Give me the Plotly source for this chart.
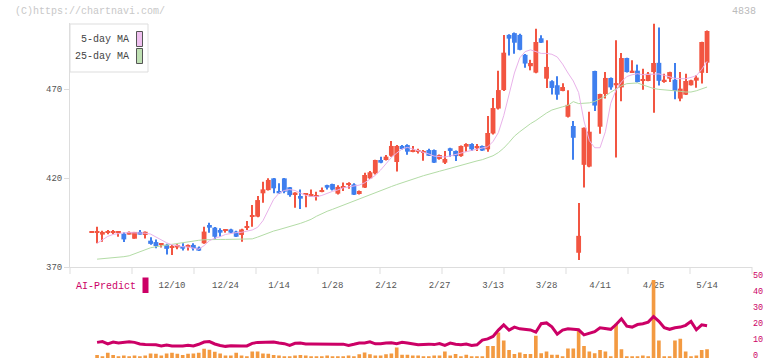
import plotly.graph_objects as go

# ---------------- data ----------------
tick_labels = ['12/10', '12/24', '1/14', '1/28', '2/12', '2/27', '3/13', '3/28', '4/11', '4/25', '5/14']
tick_index = [15, 25, 35, 45, 55, 65, 75, 85, 95, 105, 115]

opens = [389.5, 389.4, 388.2, 389.3, 389.4, 389.2, 388.7, 388.2, 385.9, 389.7,
         388.0, 384.8, 384.0, 382.5, 382.5, 380.8, 381.0, 381.8, 381.4, 382.4,
         380.9, 383.3, 393.6, 392.1, 390.8, 390.7, 391.1, 389.9, 388.0, 392.1,
         398.3, 398.3, 411.4, 413.2, 419.8, 412.7, 419.8, 414.8, 410.8, 409.9,
         410.5, 409.5, 409.8, 412.2, 416.0, 416.6, 411.2, 414.6, 416.5, 416.4,
         411.0, 414.6, 419.8, 422.6, 430.1, 430.1, 432.5, 429.0, 438.0, 438.5,
         434.8, 435.0, 434.6, 435.7, 435.7, 430.7, 428.6, 436.7, 435.2, 432.3,
         437.6, 439.1, 436.7, 438.0, 436.1, 445.0, 459.0, 469.4, 500.4, 501.4,
         500.4, 489.2, 482.8, 479.2, 498.5, 475.8, 474.4, 472.1, 468.9, 454.4,
         449.2, 378.0, 427.4, 426.4, 480.1, 448.8, 467.2, 476.2, 472.1, 470.9,
         487.4, 479.5, 480.3, 474.6, 474.5, 479.5, 484.7, 474.1, 475.8, 475.2,
         464.6, 466.8, 472.1, 474.7, 479.1, 484.8]
highs = [389.5, 392.6, 390.4, 390.8, 390.8, 389.8, 389.5, 389.9, 389.7, 390.8,
         389.9, 386.7, 385.5, 383.3, 383.0, 382.4, 382.8, 383.3, 382.6, 383.3,
         381.5, 392.6, 394.9, 392.5, 391.7, 391.2, 391.5, 390.3, 391.5, 395.8,
         404.8, 409.9, 417.9, 419.8, 420.0, 417.0, 420.0, 415.0, 412.0, 413.6,
         411.5, 413.6, 412.3, 414.7, 416.2, 416.8, 415.9, 417.5, 417.6, 417.0,
         413.0, 423.0, 424.0, 430.3, 432.0, 432.9, 440.8, 438.5, 438.5, 439.0,
         438.0, 436.5, 435.7, 436.5, 436.0, 433.2, 435.2, 437.0, 435.5, 438.3,
         439.5, 439.5, 439.1, 438.3, 454.8, 465.0, 480.3, 500.3, 500.8, 501.8,
         501.0, 489.6, 486.4, 503.8, 500.2, 497.4, 474.9, 477.2, 473.3, 469.3,
         452.0, 405.9, 448.4, 457.2, 480.3, 467.4, 479.5, 476.5, 497.4, 490.2,
         487.6, 486.1, 483.7, 481.4, 479.5, 506.7, 504.5, 478.6, 479.7, 484.6,
         479.5, 478.6, 475.2, 477.7, 496.6, 502.8]
lows = [389.5, 383.3, 384.2, 388.4, 388.4, 387.0, 384.0, 388.2, 385.9, 388.2,
        386.0, 382.5, 380.5, 381.0, 377.0, 376.7, 380.0, 379.2, 379.2, 379.2,
        379.0, 383.0, 389.3, 385.2, 387.0, 389.3, 389.0, 386.8, 384.2, 390.8,
        392.6, 398.0, 406.1, 413.0, 411.4, 411.0, 411.4, 409.5, 403.3, 402.6,
        403.5, 409.3, 407.3, 412.0, 413.5, 413.0, 410.8, 412.7, 414.0, 410.4,
        410.8, 414.4, 419.5, 422.0, 428.3, 429.8, 432.0, 423.6, 436.0, 433.0,
        434.5, 433.8, 429.7, 432.3, 428.4, 430.3, 427.9, 432.0, 429.5, 432.0,
        434.8, 435.2, 435.2, 435.2, 434.8, 444.5, 458.5, 468.9, 488.8, 489.8,
        491.8, 482.0, 480.5, 478.9, 495.8, 470.6, 466.9, 463.9, 468.7, 454.0,
        430.2, 374.0, 414.6, 426.0, 457.6, 444.8, 464.6, 469.6, 431.5, 463.1,
        479.3, 479.0, 473.7, 469.6, 474.3, 456.7, 472.0, 473.5, 473.9, 464.2,
        463.1, 466.6, 471.9, 470.7, 473.1, 479.0]
closes = [389.5, 389.6, 389.7, 389.6, 389.5, 389.5, 385.5, 389.7, 389.7, 388.2,
          389.8, 383.0, 381.8, 382.8, 380.2, 381.2, 382.4, 380.3, 382.4, 380.5,
          379.2, 389.9, 392.1, 387.0, 389.3, 391.1, 389.3, 387.0, 391.1, 392.3,
          398.8, 407.6, 413.6, 418.9, 414.2, 411.4, 412.3, 410.4, 411.8, 408.4,
          411.0, 411.0, 410.0, 412.6, 414.6, 413.5, 415.0, 414.8, 416.7, 410.6,
          412.7, 421.7, 423.2, 430.1, 428.6, 432.0, 438.0, 438.0, 436.3, 434.8,
          435.2, 435.2, 434.8, 432.5, 428.6, 432.9, 430.7, 435.2, 432.3, 438.0,
          439.1, 436.1, 438.0, 435.4, 445.3, 459.3, 469.4, 490.4, 498.3, 496.0,
          492.0, 484.3, 484.6, 496.4, 496.0, 482.4, 470.6, 466.8, 471.1, 461.1,
          442.6, 387.5, 448.2, 446.0, 460.7, 467.2, 476.2, 470.9, 473.3, 487.4,
          479.5, 480.3, 473.9, 475.0, 478.6, 484.6, 474.6, 475.2, 479.5, 468.9,
          470.2, 474.5, 474.9, 476.4, 496.4, 502.6]

ma5 = [None, 383.3, 385.5, 387.2, 388.3, 388.9, 389.2, 389.3, 389.3, 389.2,
       389.0, 388.5, 386.8, 385.2, 383.6, 382.5, 381.8, 381.4, 381.2, 380.4,
       380.0, 382.0, 384.8, 386.2, 387.0, 388.3, 389.0, 389.3, 389.5, 390.0,
       390.8, 392.3, 396.0, 402.0, 408.0, 411.5, 413.0, 413.5, 413.0, 411.5,
       410.3, 409.6, 409.5, 410.2, 411.5, 412.5, 413.3, 414.5, 415.0, 415.5,
       416.0, 417.3, 419.3, 421.5, 424.5, 428.0, 431.5, 434.0, 436.3, 437.2,
       436.3, 435.5, 434.8, 433.5, 432.3, 432.0, 431.8, 432.4, 433.3, 434.0,
       434.8, 435.5, 436.2, 436.5, 437.5, 440.5, 445.5, 455.0, 467.0, 479.0,
       487.5, 491.0, 492.0, 491.0, 490.0, 490.0, 489.5, 488.0, 484.0, 479.0,
       474.5, 468.0, 452.0, 441.0, 437.0, 437.0, 446.0, 462.0, 469.5, 474.0,
       477.0, 478.0, 478.6, 478.0, 478.3, 478.6, 478.5, 477.7, 477.0, 476.0,
       475.8, 475.8, 476.5, 477.5, 481.0, 485.5]
ma25 = [None, 374.4, 374.6, 374.8, 375.3, 375.6, 375.8, 376.3, 377.5, 378.5,
        379.8, 380.8, 381.4, 381.9, 382.4, 382.8, 383.2, 383.7, 384.2, 384.6,
        385.0, 385.3, 385.5, 385.5, 385.5, 385.5, 385.5, 385.5, 385.5, 385.5,
        385.8, 386.8, 388.0, 389.0, 390.2, 391.0, 391.8, 392.6, 393.5, 394.5,
        395.6, 396.8, 398.5, 400.0, 401.3, 402.4, 403.6, 404.8, 405.8, 407.0,
        408.4, 409.6, 410.6, 411.8, 412.8, 414.0, 415.2, 416.3, 417.2, 418.3,
        419.3, 420.3, 421.3, 422.0, 422.8, 423.8, 424.6, 425.5, 426.4, 427.1,
        428.0, 428.8, 429.6, 430.3, 431.2, 432.5, 434.3, 436.8, 440.0, 443.5,
        446.0, 448.3, 450.5, 452.3, 454.5, 456.5, 458.2, 459.3, 460.0, 460.8,
        462.9, 461.8, 462.0, 462.2, 463.0, 464.5, 466.0, 468.2, 470.0, 471.8,
        473.0, 473.4, 473.4, 472.3, 471.2, 470.3, 469.8, 469.6, 469.5, 469.2,
        468.7, 468.3, 468.3, 469.0, 470.2, 471.1]

volume = [None, 1.9, 0.8, 3.3, 1.9, 0.6, 1.5, 0.6, 1.5, 1.0,
          1.6, 2.9, 2.7, 1.5, 2.9, 3.3, 2.7, 1.9, 2.7, 2.9,
          3.3, 5.8, 5.2, 3.9, 2.9, 1.5, 1.5, 3.3, 1.5, 0.6,
          4.1, 4.1, 2.9, 2.7, 1.9, 1.5, 0.6, 0.8, 1.5, 1.9,
          1.5, 1.0, 0.6, 0.6, 1.5, 1.0, 0.6, 1.0, 1.5, 0.8,
          2.3, 3.5, 2.3, 1.5, 1.5, 2.3, 2.9, 6.6, 2.0, 2.0,
          1.5, 1.5, 1.0, 1.0, 1.5, 1.5, 4.0, 1.5, 2.5, 1.0,
          2.0, 1.0, 1.0, 1.0, 7.5, 7.5, 16.0, 11.0, 5.0, 2.5,
          3.5, 2.5, 2.5, 14.0, 3.0, 4.0, 2.0, 2.0, 1.0, 6.0,
          6.0, 17.5, 7.5, 4.0, 3.0, 5.0, 4.0, 1.0, 21.5, 5.5,
          1.0, 1.0, 1.0, 1.5, 1.0, 49.0, 11.0, 1.0, 1.0, 11.0,
          12.0, 4.0, 1.0, 1.5, 5.0, 5.5]
ai_predict = [None, 9.8, 10.3, 8.9, 10.0, 9.4, 10.0, 10.2, 9.8, 8.8,
              8.4, 8.3, 8.3, 7.6, 8.1, 7.6, 7.5, 7.5, 8.0, 7.6,
              8.6, 10.0, 10.3, 8.8, 7.9, 7.3, 7.7, 7.5, 7.5, 7.6,
              9.2, 9.8, 10.0, 10.1, 10.0, 9.4, 9.0, 7.9, 9.2, 9.4,
              8.8, 8.8, 8.7, 8.7, 8.7, 8.7, 8.7, 8.7, 7.9, 8.6,
              9.4, 9.4, 10.2, 8.9, 8.9, 9.4, 9.6, 9.0, 9.8, 9.4,
              8.9, 8.3, 8.5, 8.7, 8.4, 9.1, 7.9, 9.4, 8.6, 8.3,
              8.7, 7.9, 8.3, 11.2, 12.0, 13.5, 17.5, 20.8, 17.5, 19.4,
              18.3, 18.0, 17.6, 16.2, 21.5, 22.0, 19.5, 15.0, 17.5, 18.3,
              18.0, 17.7, 14.5, 15.6, 16.5, 19.0, 18.7, 18.0, 21.0, 24.6,
              20.0, 19.4, 21.0, 21.5, 22.5, 26.0, 23.0, 19.0, 18.0, 19.0,
              19.4, 20.5, 23.0, 17.7, 20.8, 20.2]

# ---------------- styling ----------------
RED = '#f25541'
BLUE = '#3f7fee'
PINK = '#e9b2ea'
GREEN = '#b3dca6'
ORANGE = '#f39a41'
CRIMSON = '#cc0066'
FONT = 'Liberation Mono, DejaVu Sans Mono, monospace'

W, H = 772, 361
ML, MR, MT, MB = 70, 20, 23, 3
PW = W - ML - MR
PH = H - MT - MB


def px(xp):
    return (xp - ML) / PW


def py(yp):
    return (H - MB - yp) / PH


n = len(closes)
idx = list(range(n))

fig = go.Figure()

# moving averages (behind candles)
fig.add_trace(go.Scatter(x=idx, y=ma25, mode='lines', line=dict(color=GREEN, width=1),
                         xaxis='x', yaxis='y', hoverinfo='skip'))
fig.add_trace(go.Scatter(x=idx, y=ma5, mode='lines', line=dict(color=PINK, width=1),
                         xaxis='x', yaxis='y', hoverinfo='skip'))

# candles: wicks + bodies drawn as bars on the price axis
for col, cond in ((RED, lambda o, c: c >= o), (BLUE, lambda o, c: c < o)):
    sel = [i for i in idx if cond(opens[i], closes[i])]
    fig.add_trace(go.Bar(x=sel, y=[highs[i] - lows[i] for i in sel], base=[lows[i] for i in sel],
                         width=0.2, marker=dict(color=col, line=dict(width=0)),
                         xaxis='x', yaxis='y', hoverinfo='skip'))
    fig.add_trace(go.Bar(x=sel, y=[max(abs(closes[i] - opens[i]), 0.6) for i in sel],
                         base=[min(opens[i], closes[i]) for i in sel],
                         width=0.9, marker=dict(color=col, line=dict(width=0)),
                         xaxis='x', yaxis='y', hoverinfo='skip'))

# lower panel
fig.add_trace(go.Bar(x=idx, y=volume, width=0.68, marker=dict(color=ORANGE, line=dict(width=0)),
                     xaxis='x2', yaxis='y2', hoverinfo='skip'))
fig.add_trace(go.Scatter(x=idx, y=ai_predict, mode='lines', line=dict(color=CRIMSON, width=3),
                         xaxis='x2', yaxis='y2', hoverinfo='skip'))

xr = [-4.06, 123.4]
main_bottom = py(267)
sub_top = py(278.3)

shapes = []
# division marks under the price axis
for k in range(12):
    shapes.append(dict(type='line', xref='paper', yref='paper', x0=k / 11, x1=k / 11,
                       y0=main_bottom, y1=py(274), line=dict(color='#dddddd', width=1)))
# legend box and swatches
shapes.append(dict(type='rect', xref='paper', yref='paper', x0=px(70), x1=px(148),
                   y0=py(72), y1=py(24), fillcolor='white', line=dict(color='#dddddd', width=1)))
shapes.append(dict(type='rect', xref='paper', yref='paper', x0=px(136.5), x1=px(142.5),
                   y0=py(46.5), y1=py(31.5), fillcolor='#efc0ef', line=dict(color='#555555', width=1)))
shapes.append(dict(type='rect', xref='paper', yref='paper', x0=px(136.5), x1=px(142.5),
                   y0=py(63.5), y1=py(48.5), fillcolor='#bfe0b3', line=dict(color='#555555', width=1)))
# AI-Predict marker
shapes.append(dict(type='rect', xref='paper', yref='paper', x0=px(142.5), x1=px(148.5),
                   y0=py(293), y1=py(277.5), fillcolor=CRIMSON, line=dict(width=0)))

annotations = [
    dict(text='(C)https://chartnavi.com/', xref='paper', yref='paper', x=px(13), y=py(12),
         xanchor='left', yanchor='middle', showarrow=False, font=dict(family=FONT, size=10, color='#c8c8c8')),
    dict(text='4838', xref='paper', yref='paper', x=px(758), y=py(12),
         xanchor='right', yanchor='middle', showarrow=False, font=dict(family=FONT, size=10, color='#bbbbbb')),
    dict(text='5-day MA', xref='paper', yref='paper', x=px(131), y=py(39),
         xanchor='right', yanchor='middle', showarrow=False, font=dict(family=FONT, size=10, color='#444444')),
    dict(text='25-day MA', xref='paper', yref='paper', x=px(131), y=py(56.5),
         xanchor='right', yanchor='middle', showarrow=False, font=dict(family=FONT, size=10, color='#444444')),
    dict(text='AI-Predict', xref='paper', yref='paper', x=px(74), y=py(286),
         xanchor='left', yanchor='middle', showarrow=False, font=dict(family=FONT, size=10, color=CRIMSON)),
]

fig.update_layout(
    width=W, height=H,
    margin=dict(l=ML, r=MR, t=MT, b=MB, autoexpand=False),
    paper_bgcolor='white', plot_bgcolor='white',
    showlegend=False, barmode='overlay', hovermode=False,
    font=dict(family=FONT, size=9, color='#555555'),
    xaxis=dict(domain=[0, 1], anchor='y', range=xr, tickmode='array', tickvals=tick_index,
               ticktext=tick_labels, ticks='outside', ticklen=9, tickcolor='rgba(0,0,0,0)',
               showline=True, linecolor='#dddddd', linewidth=1, showgrid=False, zeroline=False,
               automargin=False, tickfont=dict(family=FONT, size=9, color='#555555')),
    yaxis=dict(domain=[main_bottom, 1], anchor='x', range=[370, 370 + 244 / 1.78],
               tickmode='array', tickvals=[370, 420, 470], ticks='outside', ticklen=5,
               tickcolor='#dddddd', showline=True, linecolor='#dddddd', linewidth=1,
               showgrid=False, zeroline=False, automargin=False,
               tickfont=dict(family=FONT, size=9, color='#555555')),
    xaxis2=dict(domain=[0, 1], anchor='y2', range=xr, showticklabels=False, ticks='',
                showline=False, showgrid=False, zeroline=False, automargin=False),
    yaxis2=dict(domain=[0, sub_top], anchor='x2', side='right', range=[0, 50],
                tickmode='array', tickvals=[0, 10, 20, 30, 40, 50], ticks='', showline=False,
                showgrid=False, zeroline=False, automargin=False, ticklabeloverflow='allow',
                ticklabelshift=-3,
                tickfont=dict(family=FONT, size=8.5, color=CRIMSON)),
    shapes=shapes,
    annotations=annotations,
)

fig.write_html('out.html', config={'displayModeBar': False},
               post_script="document.body.style.margin='0';document.body.style.overflow='hidden';")
